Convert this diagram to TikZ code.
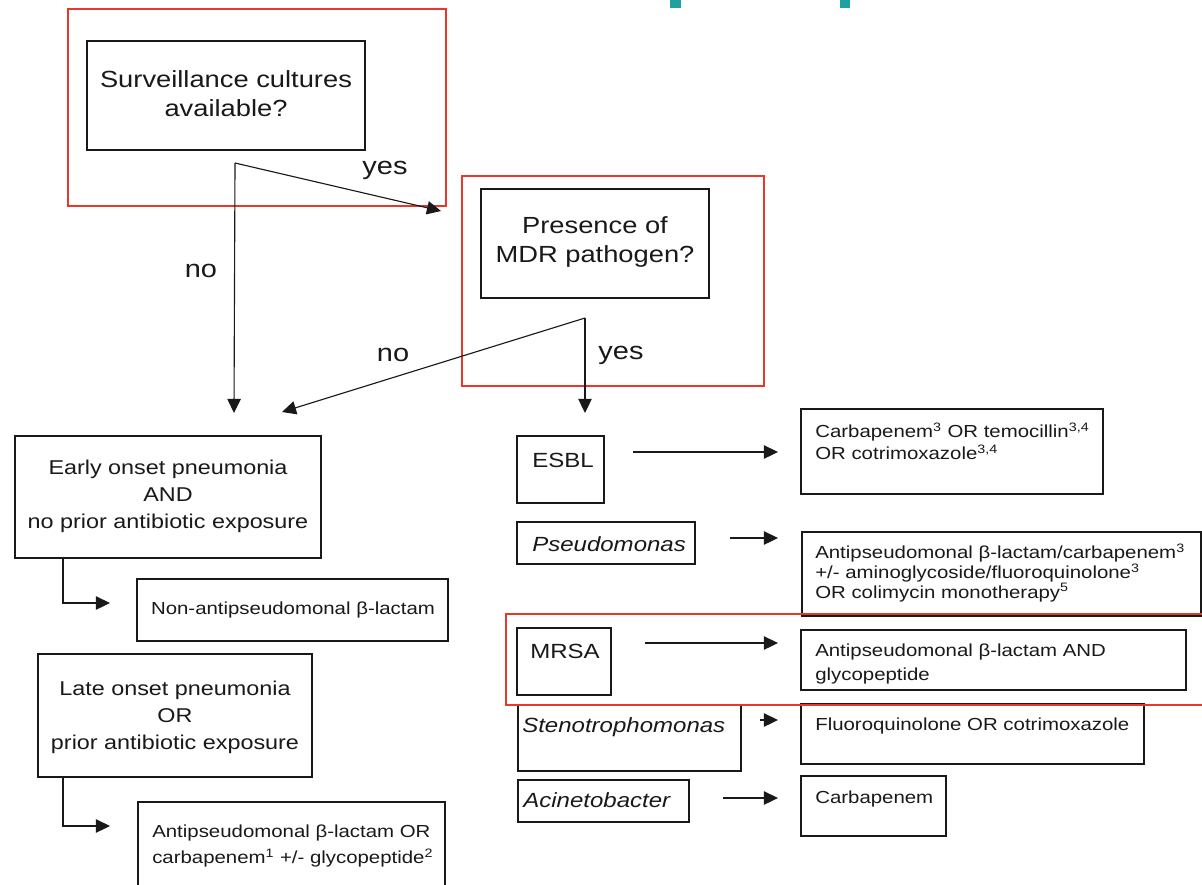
\documentclass[tikz,border=0pt]{standalone}
\usepackage{fontspec}
\setmainfont{Liberation Sans}[FakeStretch=1.17]
\usetikzlibrary{arrows.meta,fit}
\definecolor{redframe}{RGB}{232,56,44}
\definecolor{tealmark}{RGB}{32,160,160}
\definecolor{ink}{RGB}{25,25,25}
\begin{document}
\begin{tikzpicture}[x=0.025cm,y=-0.025cm,
  box/.style={draw=ink,line width=1.1pt,inner sep=0pt,rectangle},
  redbox/.style={draw=redframe,line width=0.9pt},
  arr/.style={draw=ink,line width=0.8pt,-{Triangle[length=10pt,width=9.5pt]}},
  qfont/.style={font=\fontsize{16.6pt}{20.6pt}\selectfont,align=center,inner sep=0pt,text=ink},
  lfont/.style={font=\fontsize{14.2pt}{19.2pt}\selectfont,align=center,inner sep=0pt,text=ink},
  lbl/.style={font=\fontsize{17.6pt}{20pt}\selectfont,inner sep=0pt,text=ink},
  ofont/.style={font=\fontsize{14.6pt}{17pt}\selectfont,inner sep=0pt,anchor=west,text=ink},
  tfont/.style={font=\fontsize{12.4pt}{15.6pt}\selectfont,inner sep=0pt,anchor=west,align=left,text=ink},
]
\useasboundingbox (0,0) rectangle (1202,884);
\fill[white] (0,0) rectangle (1202,884);
\clip (0,0) rectangle (1202,884);

% teal marks
\fill[tealmark] (670,0) rectangle (681,8);
\fill[tealmark] (840,0) rectangle (850,8);

% question boxes
\node[box,fit={(87,41)(365,150)}] (surv) {};
\node[qfont] (survtxt) at (226,94) {Surveillance cultures\\available?};
\node[box,fit={(481,189)(709,298)}] (mdr) {};
\node[qfont] (mdrtxt) at (595,242) {Presence of\\MDR pathogen?};

% left branch
\node[box,fit={(15,436)(321,558)}] (early) {};
\node[lfont] (earlytxt) at (168,496) {Early onset pneumonia\\AND\\no prior antibiotic exposure};
\node[box,fit={(137,579)(448,641)}] (nonanti) {};
\node[font=\fontsize{12.4pt}{15pt}\selectfont,inner sep=0pt,text=ink] (nonantitxt) at (293,610) {Non-antipseudomonal β-lactam};
\node[box,fit={(38,654)(312,777)}] (late) {};
\node[lfont] (latetxt) at (175,717.5) {Late onset pneumonia\\OR\\prior antibiotic exposure};
\node[box,fit={(138,802)(445,900)}] (anti) {};
\node[tfont,font=\fontsize{12.4pt}{18.5pt}\selectfont] (antitxt) at (152,846) {Antipseudomonal β-lactam OR\\carbapenem\textsuperscript{1} +/- glycopeptide\textsuperscript{2}};

% organism boxes
\node[box,fit={(517,436)(604,503)}] (esbl) {};
\node[box,fit={(517,522)(695,564)}] (pseudo) {};
\node[box,fit={(517,628)(611,695)}] (mrsa) {};
\node[box,fit={(518,705)(741,771)}] (steno) {};
\node[box,fit={(518,780)(689,822)}] (acin) {};
\node[ofont] (esbltxt) at (532,460) {ESBL};
\node[ofont] (pseudotxt) at (532,544) {\itshape Pseudomonas};
\node[ofont] (mrsatxt) at (530,651) {MRSA};
\node[ofont] (stenotxt) at (522,727) {\itshape Stenotrophomonas};
\node[ofont] (acintxt) at (523,800) {\itshape Acinetobacter};

% treatment boxes
\node[box,fit={(801,409)(1103,494)}] (resbl) {};
\node[box,fit={(802,532)(1201,616)}] (rpseudo) {};
\node[box,fit={(801,630)(1186,690)}] (rmrsa) {};
\node[box,fit={(801,704)(1144,764)}] (rsteno) {};
\node[box,fit={(801,776)(946,836)}] (racin) {};
\node[tfont] (resbltxt) at (815,441) {Carbapenem\textsuperscript{3} OR temocillin\textsuperscript{3,4}\\OR cotrimoxazole\textsuperscript{3,4}};
\node[tfont,font=\fontsize{12.4pt}{13.9pt}\selectfont] (rpseudotxt) at (815,573) {Antipseudomonal β-lactam/carbapenem\textsuperscript{3}\\+/- aminoglycoside/fluoroquinolone\textsuperscript{3}\\OR colimycin monotherapy\textsuperscript{5}};
\node[tfont,font=\fontsize{12.4pt}{16.4pt}\selectfont] (rmrsatxt) at (815,664) {Antipseudomonal β-lactam AND\\glycopeptide};
\node[tfont] (rstenotxt) at (815,726) {Fluoroquinolone OR cotrimoxazole};
\node[tfont] (racintxt) at (815,799) {Carbapenem};

% red frames
\draw[redbox] (68,9) rectangle (446,206);
\draw[redbox] (462,176) rectangle (764,386);
\draw[redbox] (506,614) rectangle (1215,705);

% forks and arrows
\coordinate (f1) at (235,163);
\coordinate (t1) at (234,413);
\coordinate (t2) at (441,211);
\draw[arr] (f1) -- (t1);
\draw[arr] (f1) -- (t2);
\node[lbl] (yes1) at (385,170) {yes};
\node[lbl] (no1) at (201,271) {no};

\coordinate (f2) at (585,318);
\coordinate (t3) at (282,412);
\coordinate (t4) at (585,413);
\draw[arr] (f2) -- (t3);
\draw[arr] (f2) -- (t4);
\node[lbl] (no2) at (393,355) {no};
\node[lbl] (yes2) at (621,355) {yes};

% elbow arrows
\coordinate (e1) at (63,603);
\coordinate (e1t) at (110,603);
\draw[arr] (early.south -| e1) |- (e1t);
\coordinate (e2) at (63,826);
\coordinate (e2t) at (110,826);
\draw[arr] (late.south -| e2) |- (e2t);

% organism arrows
\coordinate (a1s) at (633,452); \coordinate (a1e) at (778,452);
\coordinate (a2s) at (730,538); \coordinate (a2e) at (778,538);
\coordinate (a3s) at (645,643); \coordinate (a3e) at (778,643);
\coordinate (a4s) at (760,720); \coordinate (a4e) at (778,720);
\coordinate (a5s) at (723,798); \coordinate (a5e) at (778,798);
\draw[arr] (a1s) -- (a1e);
\draw[arr] (a2s) -- (a2e);
\draw[arr] (a3s) -- (a3e);
\draw[arr] (a4s) -- (a4e);
\draw[arr] (a5s) -- (a5e);
\end{tikzpicture}
\end{document}
